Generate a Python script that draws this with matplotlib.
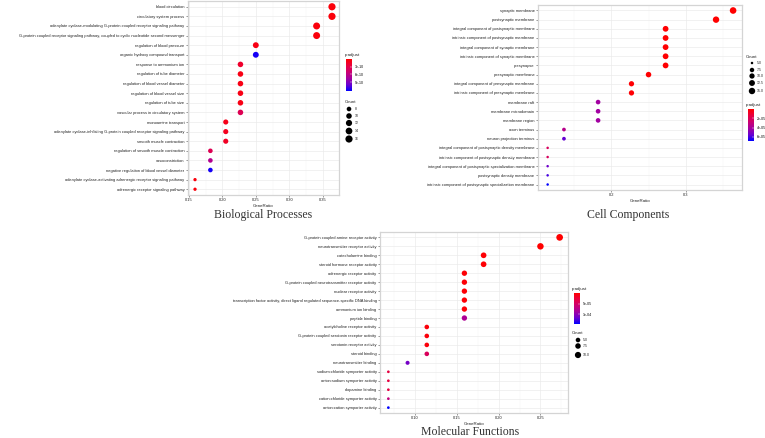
import matplotlib
matplotlib.use('Agg')
import matplotlib.pyplot as plt
import numpy as np
from matplotlib.colors import LinearSegmentedColormap, Normalize
from matplotlib.cm import ScalarMappable

plt.rcParams['font.family'] = ['Liberation Sans', 'DejaVu Sans']

# ---------------- data ----------------
bp_terms = [
    "blood circulation",
    "circulatory system process",
    "adenylate cyclase-modulating G-protein coupled receptor signaling pathway",
    "G-protein coupled receptor signaling pathway, coupled to cyclic nucleotide second messenger",
    "regulation of blood pressure",
    "organic hydroxy compound transport",
    "response to ammonium ion",
    "regulation of tube diameter",
    "regulation of blood vessel diameter",
    "regulation of blood vessel size",
    "regulation of tube size",
    "vascular process in circulatory system",
    "monoamine transport",
    "adenylate cyclase-inhibiting G-protein coupled receptor signaling pathway",
    "smooth muscle contraction",
    "regulation of smooth muscle contraction",
    "vasoconstriction",
    "negative regulation of blood vessel diameter",
    "adenylate cyclase-activating adrenergic receptor signaling pathway",
    "adrenergic receptor signaling pathway",
]
bp_ratio = [0.364, 0.364, 0.341, 0.341, 0.250, 0.250, 0.227, 0.227, 0.227, 0.227,
            0.227, 0.227, 0.205, 0.205, 0.205, 0.182, 0.182, 0.182, 0.159, 0.159]
bp_count = [16, 16, 15, 15, 11, 11, 10, 10, 10, 10, 10, 10, 9, 9, 9, 8, 8, 8, 7, 7]
bp_padj = [4e-11, 4e-11, 5e-11, 5e-11, 8e-11, 1.2e-9, 1.8e-10, 8e-11, 8e-11, 8e-11,
           8e-11, 3.5e-10, 1e-10, 1.2e-10, 1.5e-10, 3.5e-10, 6.5e-10, 1.2e-9, 5e-11, 5e-11]
bp_cbar_ticks = [3e-10, 6e-10, 9e-10]
bp_cbar_labels = ["3e-10", "6e-10", "9e-10"]
bp_size_ticks = [8, 10, 12, 14, 16]
bp_xticks = [0.15, 0.20, 0.25, 0.30, 0.35]
bp_xlabels = ["0.15", "0.20", "0.25", "0.30", "0.35"]

cc_terms = [
    "synaptic membrane",
    "postsynaptic membrane",
    "integral component of postsynaptic membrane",
    "intrinsic component of postsynaptic membrane",
    "integral component of synaptic membrane",
    "intrinsic component of synaptic membrane",
    "presynapse",
    "presynaptic membrane",
    "integral component of presynaptic membrane",
    "intrinsic component of presynaptic membrane",
    "membrane raft",
    "membrane microdomain",
    "membrane region",
    "axon terminus",
    "neuron projection terminus",
    "integral component of postsynaptic density membrane",
    "intrinsic component of postsynaptic density membrane",
    "integral component of postsynaptic specialization membrane",
    "postsynaptic density membrane",
    "intrinsic component of postsynaptic specialization membrane",
]
cc_ratio = [0.364, 0.341, 0.273, 0.273, 0.273, 0.273, 0.273, 0.250, 0.227, 0.227,
            0.182, 0.182, 0.182, 0.136, 0.136, 0.114, 0.114, 0.114, 0.114, 0.114]
cc_count = [16, 15, 12, 12, 12, 12, 12, 11, 10, 10, 8, 8, 8, 6, 6, 5, 5, 5, 5, 5]
cc_padj = [1e-7, 1e-7, 5e-7, 5e-7, 5e-7, 5e-7, 5e-7, 8e-7, 1e-6, 1e-6,
           4.2e-5, 4.2e-5, 4.2e-5, 3.5e-5, 5.6e-5, 2.2e-5, 2.2e-5, 5.4e-5, 6e-5, 6.9e-5]
cc_cbar_ticks = [2e-5, 4e-5, 6e-5]
cc_cbar_labels = ["2e-05", "4e-05", "6e-05"]
cc_size_ticks = [5.0, 7.5, 10.0, 12.5, 15.0]
cc_xticks = [0.2, 0.3]
cc_xlabels = ["0.2", "0.3"]

mf_terms = [
    "G-protein coupled amine receptor activity",
    "neurotransmitter receptor activity",
    "catecholamine binding",
    "steroid hormone receptor activity",
    "adrenergic receptor activity",
    "G-protein coupled neurotransmitter receptor activity",
    "nuclear receptor activity",
    "transcription factor activity, direct ligand regulated sequence-specific DNA binding",
    "ammonium ion binding",
    "peptide binding",
    "acetylcholine receptor activity",
    "G-protein coupled serotonin receptor activity",
    "serotonin receptor activity",
    "steroid binding",
    "neurotransmitter binding",
    "sodium:chloride symporter activity",
    "anion:sodium symporter activity",
    "dopamine binding",
    "cation:chloride symporter activity",
    "anion:cation symporter activity",
]
mf_ratio = [0.273, 0.250, 0.182, 0.182, 0.159, 0.159, 0.159, 0.159, 0.159, 0.159,
            0.114, 0.114, 0.114, 0.114, 0.091, 0.068, 0.068, 0.068, 0.068, 0.068]
mf_count = [12, 11, 8, 8, 7, 7, 7, 7, 7, 7, 5, 5, 5, 5, 4, 3, 3, 3, 3, 3]
mf_padj = [2e-7, 5e-7, 2e-6, 2e-6, 3e-6, 3e-6, 3e-6, 3e-6, 3e-6, 8e-5,
           5e-6, 5e-6, 5e-6, 4.5e-5, 1.1e-4, 3e-5, 3e-5, 3e-5, 6.5e-5, 1.45e-4]
mf_cbar_ticks = [5e-5, 1e-4]
mf_cbar_labels = ["5e-05", "1e-04"]
mf_size_ticks = [5.0, 7.5, 10.0]
mf_xticks = [0.10, 0.15, 0.20, 0.25]
mf_xlabels = ["0.10", "0.15", "0.20", "0.25"]

# ---------------- layout helpers ----------------
W, H = 765, 438
fig = plt.figure(figsize=(W / 100, H / 100), dpi=100)
fig.patch.set_facecolor('white')

def box(l, t, r, b):
    return [l / W, 1 - b / H, (r - l) / W, (b - t) / H]

cmap = LinearSegmentedColormap.from_list(
    'rb', ['#FF0000', '#E8003F', '#CC0070', '#A4009F', '#6A00CF', '#0000FF'])

def size_fn(cmin, cmax, dmin, dmax):
    def f(c):
        c = np.asarray(c, dtype=float)
        r = np.clip((c - cmin) / (cmax - cmin), 0, 1)
        d = dmin + (dmax - dmin) * np.sqrt(r)
        return (d * 0.72) ** 2
    return f

overlay = fig.add_axes([0, 0, 1, 1], zorder=5)
overlay.set_xlim(0, W)
overlay.set_ylim(H, 0)
overlay.axis('off')
overlay.patch.set_alpha(0)

FS = 2.9

def panel(rect, terms, ratio, count, padj, xlim, xticks, xlabels, xminor,
          vmin, vmax, sf):
    ax = fig.add_axes(box(*rect))
    n = len(terms)
    y = np.arange(n)
    norm = Normalize(vmin, vmax)
    ax.scatter(ratio, y, s=sf(count), c=padj, cmap=cmap, norm=norm,
               linewidths=0, zorder=3)
    ax.set_ylim(n - 1 + 0.6, -0.6)
    ax.set_xlim(*xlim)
    ax.set_yticks(y)
    ax.set_yticklabels(terms)
    ax.set_xticks(xticks)
    ax.set_xticklabels(xlabels)
    ax.set_xticks(xminor, minor=True)
    ax.grid(True, which='major', color='#EBEBEB', lw=0.5)
    ax.grid(True, which='minor', axis='x', color='#F4F4F4', lw=0.35)
    ax.set_axisbelow(True)
    for s in ax.spines.values():
        s.set_color('#D4D4D4')
        s.set_linewidth(0.9)
    ax.tick_params(labelsize=FS, length=1.5, width=0.4, color='#444444',
                   pad=1, labelcolor='#222222')
    ax.tick_params(which='minor', length=0)
    ax.set_xlabel('GeneRatio', fontsize=3.2, labelpad=0.8, color='#222222')
    return norm

def cbar(rect, norm, ticks, labels, title_xy):
    cax = fig.add_axes(box(*rect))
    cb = fig.colorbar(ScalarMappable(norm=norm, cmap=cmap), cax=cax)
    cax.invert_yaxis()
    cb.outline.set_visible(False)
    cb.set_ticks(ticks)
    cb.set_ticklabels(labels)
    cax.tick_params(labelsize=2.5, length=1.2, width=0.3, color='white',
                    direction='in', pad=2)
    overlay.text(title_xy[0], title_xy[1], 'p.adjust', fontsize=3.2,
                 ha='left', va='center', color='#222222')

def size_legend(title_xy, xs, ys, vals, sf, labx):
    overlay.text(title_xy[0], title_xy[1], 'Count', fontsize=3.2,
                 ha='left', va='center', color='#222222')
    overlay.scatter([xs] * len(vals), ys, s=sf(vals), c='black', linewidths=0)
    for yy, v in zip(ys, vals):
        lab = f"{v:.1f}" if isinstance(v, float) else str(v)
        overlay.text(labx, yy, lab, fontsize=2.5, ha='left', va='center',
                     color='#222222')

# ---------------- Biological Processes ----------------
sf_bp = size_fn(7, 16, 3.3, 7.2)
norm_bp = panel((188, 1, 339, 195), bp_terms, bp_ratio, bp_count, bp_padj,
                (0.1485, 0.3745), bp_xticks, bp_xlabels,
                [0.175, 0.225, 0.275, 0.325], 0, 1.25e-9, sf_bp)
cbar((346, 59, 352, 91), norm_bp, bp_cbar_ticks, bp_cbar_labels, (345, 55))
size_legend((345, 102), 349, [109, 116, 123, 131, 139], bp_size_ticks, sf_bp, 355)
fig.text(263 / W, 1 - 215 / H, 'Biological Processes', fontsize=8.5,
         family='Liberation Serif', ha='center', va='center', color='#333333')

# ---------------- Cell Components ----------------
sf_cc = size_fn(5, 16, 2.5, 6.6)
norm_cc = panel((538, 5, 742, 190), cc_terms, cc_ratio, cc_count, cc_padj,
                (0.101, 0.376), cc_xticks, cc_xlabels,
                [0.15, 0.25, 0.35], 0, 6.9e-5, sf_cc)
size_legend((746, 57), 752, [63, 70, 76, 83, 91], cc_size_ticks, sf_cc, 757)
cbar((748, 109, 754, 141), norm_cc, cc_cbar_ticks, cc_cbar_labels, (746, 105))
fig.text(628 / W, 1 - 215 / H, 'Cell Components', fontsize=8.5,
         family='Liberation Serif', ha='center', va='center', color='#333333')

# ---------------- Molecular Functions ----------------
sf_mf = size_fn(3, 12, 2.7, 6.7)
norm_mf = panel((380, 232, 568, 413), mf_terms, mf_ratio, mf_count, mf_padj,
                (0.058, 0.283), mf_xticks, mf_xlabels,
                [0.075, 0.125, 0.175, 0.225, 0.275], 0, 1.45e-4, sf_mf)
cbar((574, 293, 580, 324), norm_mf, mf_cbar_ticks, mf_cbar_labels, (572, 289))
size_legend((572, 333), 578, [340, 346, 355], mf_size_ticks, sf_mf, 583)
fig.text(470 / W, 1 - 432 / H, 'Molecular Functions', fontsize=8.5,
         family='Liberation Serif', ha='center', va='center', color='#333333')

fig.savefig('out.png', dpi=100, facecolor='white')
